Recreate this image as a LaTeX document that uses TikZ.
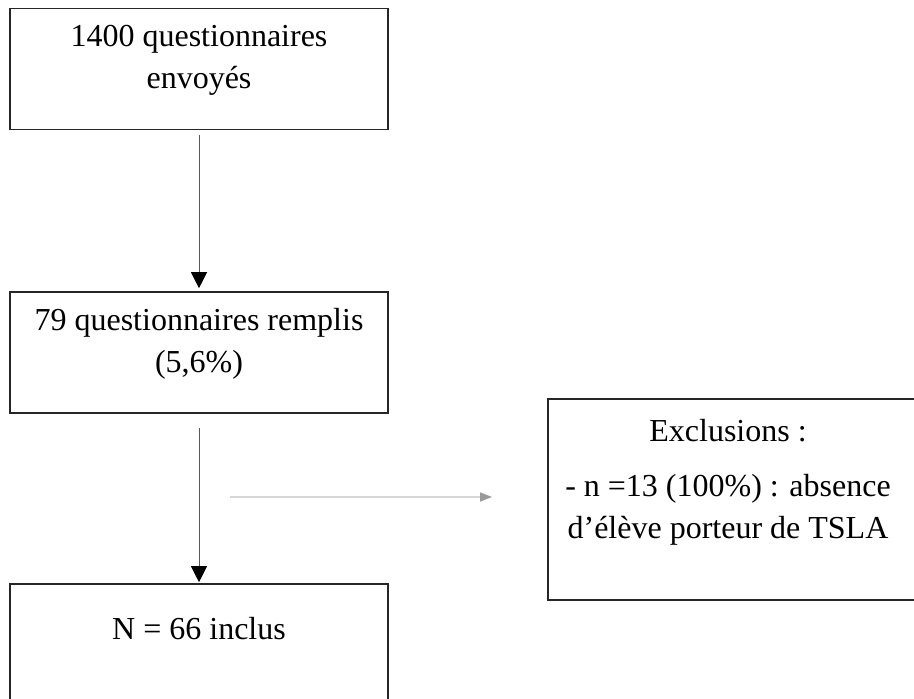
\documentclass[tikz,border=0pt]{standalone}
\usepackage{fontspec}
\setmainfont{Liberation Serif}
\usetikzlibrary{arrows.meta,positioning}

\begin{document}
\begin{tikzpicture}[x=0.5pt,y=-0.5pt,font=\fontsize{16}{21}\selectfont,
      bx/.style={draw=black!85,line width=0.8pt,minimum width=189pt,minimum height=60.5pt,inner sep=0pt},
      tx/.style={align=center,inner sep=0pt},
      a/.style={draw=black!65,line width=0.5pt,-{Triangle[width=8pt,length=8pt,black]}},
      ga/.style={draw=black!16,line width=0.7pt,-{Triangle[width=4.5pt,length=6pt,black!40]}}]
      \clip (0,0) rectangle (914,699);
      \node[bx] (env) at (199,69) {};
      \node[bx] (rem) at (199,352.5) {};
      \node[bx] (inc) at (199,644.5) {};
      \node[bx,minimum height=100.5pt] (exc) at (737,499.5) {};
      \node[tx,below=8.5pt of env.north] (envt) {1400 questionnaires\\envoyés};
      \node[tx,below=8.5pt of rem.north] (remt) {79 questionnaires remplis\\(5,6\%)};
      \node[tx,below=17pt of inc.north] (inct) {N = 66 inclus};
      \node[tx,below=10.5pt of exc.north,xshift=-4.5pt] (exct) {Exclusions :\\[6.5pt]- n =13 (100\%) : absence\\d’élève porteur de TSLA};
      \coordinate (gA) at (230,497);
      \coordinate (gB) at (492,497);
      \draw[a,shorten <=2.5pt,shorten >=1.5pt] (env) -- (rem);
      \draw[a,shorten <=7pt,shorten >=0.5pt] (rem) -- (inc);
      \draw[ga] (gA) -- (gB);
    \end{tikzpicture}
\end{document}
